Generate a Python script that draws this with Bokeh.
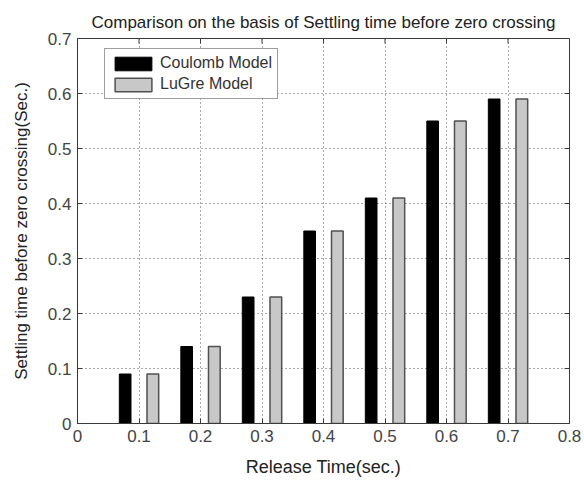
from bokeh.plotting import figure
from bokeh.models import (ColumnDataSource, FixedTicker, Legend, LegendItem,
                          Range1d, Title)
from bokeh.transform import dodge
from bokeh.embed import file_html
from bokeh.resources import INLINE

# Release times and settling times before the first zero crossing
release_time = [0.1, 0.2, 0.3, 0.4, 0.5, 0.6, 0.7]
coulomb_settling = [0.09, 0.14, 0.23, 0.35, 0.41, 0.55, 0.59]
lugre_settling = [0.09, 0.14, 0.23, 0.35, 0.41, 0.55, 0.59]

x_ticks = [0, 0.1, 0.2, 0.3, 0.4, 0.5, 0.6, 0.7, 0.8]
y_ticks = [0, 0.1, 0.2, 0.3, 0.4, 0.5, 0.6, 0.7]

X_MIN, X_MAX = 0, 0.8
Y_MIN, Y_MAX = 0, 0.7

src = ColumnDataSource(dict(x=release_time, coulomb=coulomb_settling,
                            lugre=lugre_settling))

FONT = "Liberation Sans"
AX = "#3a3a3a"
W, H = 584, 482
B_LEFT, B_RIGHT, B_TOP, B_BOTTOM = 77, 15, 38, 59

p = figure(width=W, height=H, output_backend="svg", toolbar_location=None,
           x_range=Range1d(X_MIN, X_MAX), y_range=Range1d(Y_MIN, Y_MAX),
           min_border_left=B_LEFT, min_border_right=B_RIGHT,
           min_border_top=B_TOP, min_border_bottom=B_BOTTOM,
           background_fill_color="white", border_fill_color="white", title=None)

p.add_layout(Title(text="Comparison on the basis of Settling time before zero crossing",
                   align="center", text_font=FONT, text_font_size="17px",
                   text_font_style="normal", text_color="#222222",
                   standoff=14), "above")

bar_w = 0.019
r1 = p.vbar(x=dodge("x", -0.0225, range=p.x_range), top="coulomb", width=bar_w,
            source=src, fill_color="black", line_color="black", line_width=1)
r2 = p.vbar(x=dodge("x", 0.0225, range=p.x_range), top="lugre", width=bar_w,
            source=src, fill_color="#c8c8c8", line_color="#505050", line_width=1.5)

for ax in (p.xaxis[0], p.yaxis[0]):
    ax.axis_line_color = AX
    ax.major_tick_in = 5
    ax.major_tick_out = 0
    ax.major_tick_line_color = AX
    ax.minor_tick_line_color = None
    ax.major_label_text_font = FONT
    ax.major_label_text_font_size = "17px"
    ax.major_label_text_color = "#444444"
    ax.axis_label_text_font = FONT
    ax.axis_label_text_font_style = "normal"
    ax.axis_label_text_color = "#222222"

p.xaxis[0].ticker = FixedTicker(ticks=x_ticks)
p.yaxis[0].ticker = FixedTicker(ticks=y_ticks)
p.xaxis[0].axis_label = "Release Time(sec.)"
p.yaxis[0].axis_label = "Settling time before zero crossing(Sec.)"
p.xaxis[0].axis_label_text_font_size = "18px"
p.yaxis[0].axis_label_text_font_size = "17px"
p.xaxis[0].major_label_standoff = 6
p.yaxis[0].major_label_standoff = 6
p.xaxis[0].axis_label_standoff = 12
p.yaxis[0].axis_label_standoff = 14

# Inward ticks along the top and right edges of the box
frame_w = W - B_LEFT - B_RIGHT
frame_h = H - B_TOP - B_BOTTOM
tick_len_y = (Y_MAX - Y_MIN) * 5 / frame_h
tick_len_x = (X_MAX - X_MIN) * 5 / frame_w
p.segment(x0=x_ticks, x1=x_ticks, y0=[Y_MAX] * len(x_ticks),
          y1=[Y_MAX - tick_len_y] * len(x_ticks), line_color=AX, line_width=1)
p.segment(x0=[X_MAX] * len(y_ticks), x1=[X_MAX - tick_len_x] * len(y_ticks),
          y0=y_ticks, y1=y_ticks, line_color=AX, line_width=1)

p.xgrid.ticker = FixedTicker(ticks=x_ticks)
p.ygrid.ticker = FixedTicker(ticks=y_ticks)
for g in (p.xgrid[0], p.ygrid[0]):
    g.grid_line_color = "#555555"
    g.grid_line_dash = "1 3"
    g.grid_line_width = 1
p.outline_line_color = AX

legend = Legend(items=[LegendItem(label="Coulomb Model", renderers=[r1]),
                       LegendItem(label="LuGre Model", renderers=[r2])],
                location=(27, 324), label_text_font=FONT,
                label_text_font_size="16px", label_text_color="#333333",
                glyph_width=46, glyph_height=17, spacing=3, padding=5,
                margin=0, label_standoff=4, label_height=18,
                border_line_color="#404040", border_line_width=1.2,
                background_fill_alpha=1)
p.add_layout(legend)

open("out.html", "w").write(file_html(p, INLINE))
